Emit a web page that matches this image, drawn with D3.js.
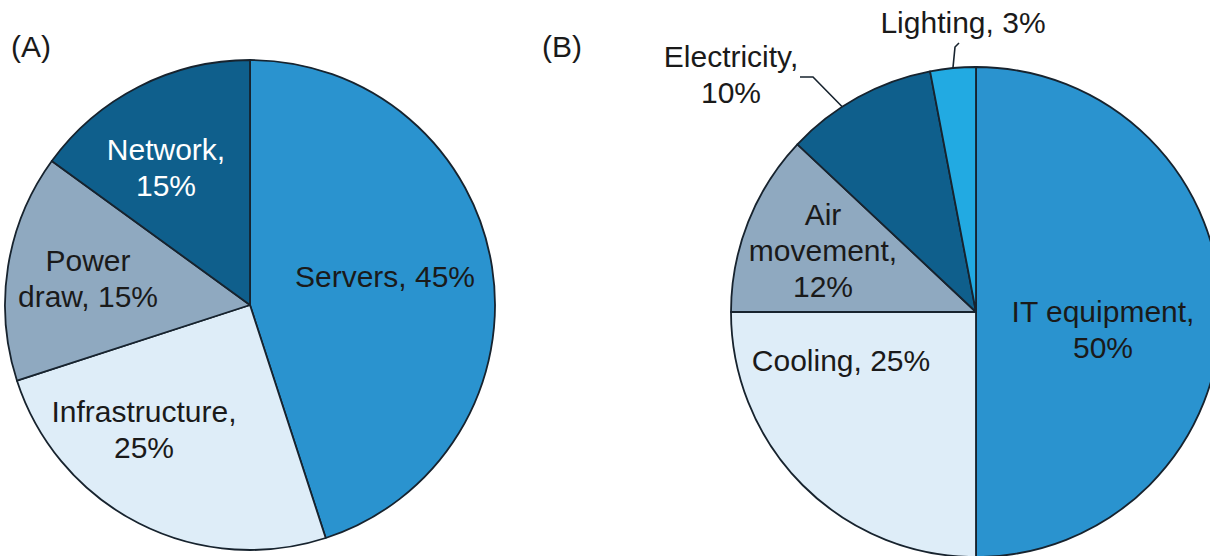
<!DOCTYPE html>
<html>
<head>
<meta charset="utf-8">
<script src="https://cdn.jsdelivr.net/npm/d3@7/dist/d3.min.js"></script>
<style>
  body { margin: 0; background: #fff; }
  svg { display: block; }
</style>
</head>
<body>
<div id="chart"></div>
<script>
// data
const pieACategories = ["Servers", "Infrastructure", "Power draw", "Network"];
const pieAValues = [45, 25, 15, 15];
const pieBCategories = ["IT equipment", "Cooling", "Air movement", "Electricity", "Lighting"];
const pieBValues = [50, 25, 12, 10, 3];

const width = 1210, height = 556;
const fontFamily = "'Liberation Sans', Arial, sans-serif";
const fontSize = 30;
const lineHeight = 36;

const colors = {
    "Servers": "#2a93cf", "IT equipment": "#2a93cf",
    "Infrastructure": "#deedf8", "Cooling": "#deedf8",
    "Power draw": "#8fa9c0", "Air movement": "#8fa9c0",
    "Network": "#0f5f8c", "Electricity": "#0f5f8c",
    "Lighting": "#22aae2"
};

// label layout: offset from pie centre, how many words per line
const labelLayoutA = {
    "Servers": {dx: 135, dy: -18, breaks: [2]},
    "Infrastructure": {dx: -106, dy: 117, breaks: [1, 1]},
    "Power draw": {dx: -162, dy: -34, breaks: [1, 2]},
    "Network": {dx: -84, dy: -145, breaks: [1, 1], fill: "#fff"}
};
const labelLayoutB = {
    "IT equipment": {dx: 127, dy: 10, breaks: [2, 1]},
    "Cooling": {dx: -135, dy: 59, breaks: [2]},
    "Air movement": {dx: -153, dy: -87, breaks: [1, 1, 1]},
    "Electricity": {dx: -245, dy: -245, breaks: [1, 1],
        leader: {pts: [[-176, -235], [-163, -235]], angle: 326.9}},
    "Lighting": {dx: -13, dy: -279, breaks: [2],
        leader: {pts: [[-17, -269], [-21, -265]], angle: 354.6}}
};

const svg = d3.select("#chart").append("svg")
    .attr("width", width)
    .attr("height", height)
    .attr("viewBox", `0 0 ${width} ${height}`);

function splitLines(name, value, breaks) {
    const words = `${name}, ${value}%`.split(" ");
    const lines = [];
    let i = 0;
    breaks.forEach(n => {
        lines.push(words.slice(i, i + n).join(" "));
        i += n;
    });
    return lines;
}

function drawPie({categories, values, cx, cy, radius, layout, tag, tagX}) {
    const g = svg.append("g").attr("transform", `translate(${cx},${cy})`);

    const pie = d3.pie().sort(null).value(d => d.value);
    const arcs = pie(categories.map((c, i) => ({name: c, value: values[i]})));
    const arc = d3.arc().innerRadius(0).outerRadius(radius);

    g.selectAll("path")
        .data(arcs)
        .join("path")
        .attr("d", arc)
        .attr("fill", d => colors[d.data.name])
        .attr("stroke", "#17232e")
        .attr("stroke-width", 1.8)
        .attr("stroke-linejoin", "round");

    // leader lines
    arcs.forEach(d => {
        const l = layout[d.data.name].leader;
        if (!l) return;
        const a = l.angle * Math.PI / 180;
        const end = [radius * Math.sin(a), -radius * Math.cos(a)];
        g.append("path")
            .attr("d", d3.line()(l.pts.concat([end])))
            .attr("fill", "none")
            .attr("stroke", "#17232e")
            .attr("stroke-width", 1.6);
    });

    const labels = g.selectAll("text.label")
        .data(arcs)
        .join("text")
        .attr("class", "label")
        .attr("text-anchor", "middle")
        .attr("font-family", fontFamily)
        .attr("font-size", fontSize)
        .attr("fill", d => layout[d.data.name].fill || "#1a1a1a");

    labels.each(function (d) {
        const lay = layout[d.data.name];
        const lines = splitLines(d.data.name, d.data.value, lay.breaks);
        d3.select(this).selectAll("tspan")
            .data(lines)
            .join("tspan")
            .attr("x", lay.dx)
            .attr("y", (t, i) => lay.dy + i * lineHeight)
            .text(t => t);
    });

    svg.append("text")
        .attr("x", tagX)
        .attr("y", 57)
        .attr("font-family", fontFamily)
        .attr("font-size", fontSize)
        .attr("fill", "#1a1a1a")
        .text(tag);
}

drawPie({categories: pieACategories, values: pieAValues, cx: 250, cy: 305, radius: 245,
    layout: labelLayoutA, tag: "(A)", tagX: 11});
drawPie({categories: pieBCategories, values: pieBValues, cx: 976, cy: 312, radius: 245,
    layout: labelLayoutB, tag: "(B)", tagX: 542});
</script>
</body>
</html>
